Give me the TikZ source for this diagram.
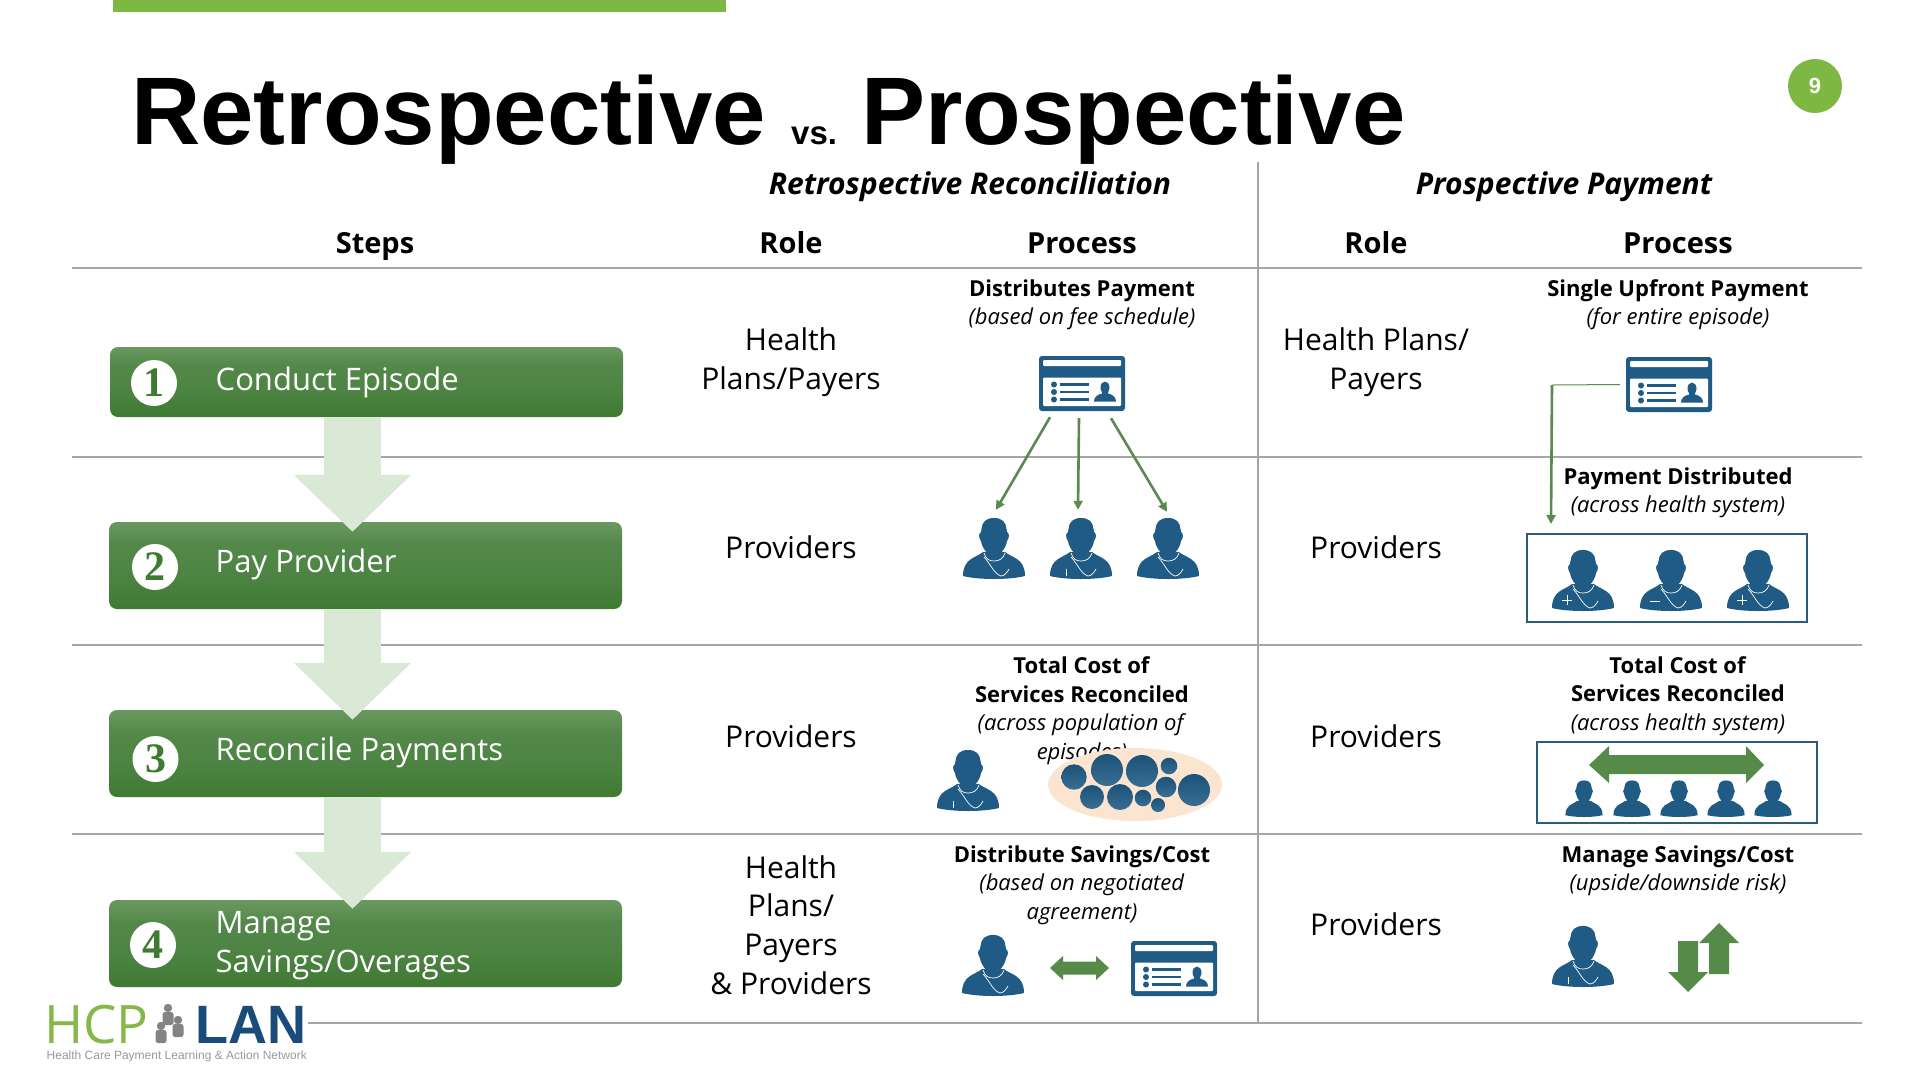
\documentclass[tikz,border=0pt]{standalone}
\usepackage{fontspec}
\setmainfont{Open Sans}
\newfontfamily\arialf{Liberation Sans}
\newfontfamily\serifnum{Liberation Serif}
\usetikzlibrary{arrows.meta,calc,shapes.geometric}
\definecolor{barg}{HTML}{7DB843}
\definecolor{rule}{HTML}{A6A6A6}
\definecolor{iconblue}{HTML}{1F5B85}
\definecolor{framebl}{HTML}{2B5C7C}
\definecolor{lineg}{HTML}{5B8A50}
\definecolor{blockg}{HTML}{568A48}
\definecolor{stepa}{HTML}{D9E9D6}
\definecolor{stept}{HTML}{6A9960}
\definecolor{stepm}{HTML}{53884A}
\definecolor{stepb}{HTML}{3F7A33}
\definecolor{peach}{HTML}{FBE5D0}
\definecolor{lanblue}{HTML}{1A4B7A}
\definecolor{hcpg}{HTML}{84B94A}
\definecolor{tagg}{HTML}{9A9A9A}
\pgfdeclareverticalshading{stepshade}{100bp}{color(0bp)=(stepb); color(25bp)=(stepb); color(45bp)=(stepm!70!stepb); color(62bp)=(stepm); color(75bp)=(stept); color(100bp)=(stept)}
\tikzset{
  x=1pt,y=-1pt,
  rulel/.style={draw=rule,line width=1.2pt},
  stepbox/.style={rounded corners=8pt,shading=stepshade,minimum width=513pt,inner sep=0pt},
  stepnum/.style={circle,fill=white,minimum size=46pt,inner sep=0pt,text=stepb,font=\serifnum\bfseries\fontsize{42}{42}\selectfont},
  steptxt/.style={anchor=west,inner sep=0pt,align=left,text=white,font=\fontsize{31}{39}\selectfont},
  steparrow/.style={draw=stepa,line width=57pt,-{Triangle[width=114pt,length=57pt,fill=stepa]}},
  head/.style={inner sep=0pt,font=\bfseries\fontsize{29}{35}\selectfont},
  subhead/.style={inner sep=0pt,font=\bfseries\itshape\fontsize{30}{36}\selectfont},
  role/.style={inner sep=0pt,align=center,font=\fontsize{30}{38.7}\selectfont},
  proc/.style={inner sep=0pt,align=center,font=\fontsize{22}{28.5}\selectfont},
  icon/.style={inner sep=0pt,minimum width=62pt,minimum height=62pt},
  cardn/.style={inner sep=0pt,minimum width=86pt,minimum height=55pt},
  frameb/.style={draw=framebl,line width=2pt,inner sep=0pt},
  flow/.style={draw=lineg,line width=2.6pt,-{Triangle[width=9pt,length=9pt]}},
  doctorplain/.pic={
    \fill[iconblue] (0,-31) .. controls (8,-31) and (12,-27) .. (12.5,-20) -- (13,-17)
      .. controls (15.5,-16) and (15.5,-11) .. (13,-8) .. controls (12,-1) and (6,7) .. (0,7)
      .. controls (-6,7) and (-12,-1) .. (-13,-8) .. controls (-15.5,-11) and (-15.5,-16) .. (-13,-17)
      -- (-12.5,-20) .. controls (-12,-27) and (-8,-31) .. (0,-31) -- cycle;
    \fill[iconblue] (-8,-2) rectangle (8,8);
    \fill[iconblue] (-11,3) .. controls (-18,9) and (-31,9) .. (-31,27) .. controls (-15,31) and (15,31) .. (31,27)
      .. controls (31,9) and (18,9) .. (11,3) -- cycle;
  },
  doctor/.pic={
    \pic {doctorplain};
    \draw[white,line width=.7pt] (-10,4) .. controls (-8,10) and (-5,12) .. (0,12) .. controls (5,12) and (9,10) .. (11,4);
    \draw[white,line width=.7pt] (-10,8) .. controls (-4,14) and (0,25) .. (7,27) .. controls (10,27) and (13,24) .. (15,20);
  },
  doctorb/.pic={
    \pic {doctor};
    \draw[white,line width=.7pt] (-15,20) -- (-15,27);
  },
  card/.pic={
    \fill[iconblue,rounded corners=3pt] (-43,-27.5) rectangle (43,27.5);
    \fill[white,rounded corners=1pt] (-39,-23.5) rectangle (39,-17.5);
    \fill[white,rounded corners=1pt] (-39,-6) rectangle (39,22.5);
    \foreach \yy in {1,8.5,16}{
      \fill[iconblue] (-28,\yy) circle (3);
      \fill[iconblue] (-22,\yy-1.3) rectangle (7,\yy+1.3);
    }
    \fill[iconblue] (23,4) ellipse (4.5 and 6);
    \fill[iconblue] (20,7) -- (26,7) -- (26,10) .. controls (30,11) and (34,13) .. (34,18) -- (12,18) .. controls (12,13) and (16,11) .. (20,10) -- cycle;
  },
  person/.pic={
    \fill[tagg!85!black] (0,-8) circle (4.2);
    \fill[tagg!85!black,rounded corners=2.5pt] (-5.5,-4) rectangle (5.5,9);
  }
}
\begin{document}
\begin{tikzpicture}
\useasboundingbox (0,0) rectangle (1920,1080);
\fill[white] (0,0) rectangle (1920,1080);
\fill[barg] (113,0) rectangle (726,12);
\node[circle,fill=barg,minimum size=54pt,inner sep=0pt,text=white,font=\arialf\bfseries\fontsize{22}{22}\selectfont] (pageno) at (1815,86) {9};
% title
\node[anchor=base west,inner sep=0pt,font=\arialf\bfseries\fontsize{96}{96}\selectfont] (titlea) at (131,144.5) {Retrospective};
\node[anchor=base west,inner sep=0pt,font=\arialf\bfseries\fontsize{33}{33}\selectfont] (titleb) at (791,144.5) {vs.};
\node[anchor=base west,inner sep=0pt,font=\arialf\bfseries\fontsize{96}{96}\selectfont] (titlec) at (861,144.5) {Prospective};
% rules
\draw[rulel] (1258,162) -- (1258,1023);
\draw[rulel] (72,268) -- (1862,268);
\draw[rulel] (72,457) -- (1862,457);
\draw[rulel] (72,645) -- (1862,645);
\draw[rulel] (72,834) -- (1862,834);
\draw[rulel] (308,1023) -- (1862,1023);
% headers
\node[subhead] (hr) at (970,187) {Retrospective Reconciliation};
\node[subhead] (hp) at (1564,187) {Prospective Payment};
\node[head,anchor=base] (h0) at (375,253) {Steps};
\node[head,anchor=base] (h1) at (791,253) {Role};
\node[head,anchor=base] (h2) at (1082,253) {Process};
\node[head,anchor=base] (h3) at (1376,253) {Role};
\node[head,anchor=base] (h4) at (1678,253) {Process};
% step boxes
\node[stepbox,minimum height=70pt] (box1) at (366.5,382) {};
\node[stepbox,minimum height=87pt] (box2) at (365.5,565.5) {};
\node[stepbox,minimum height=87pt] (box3) at (365.5,753.5) {};
\node[stepbox,minimum height=87pt] (box4) at (365.5,943.5) {};
\draw[steparrow] ([xshift=-14pt]box1.south) -- ([xshift=-13pt,yshift=-10pt]box2.north);
\draw[steparrow] ([xshift=-13pt]box2.south) -- ([xshift=-13pt,yshift=-10pt]box3.north);
\draw[steparrow] ([xshift=-13pt]box3.south) -- ([xshift=-13pt,yshift=-9pt]box4.north);
\node[stepnum] (n1) at (154,383) {1};
\node[stepnum] (n2) at (155,567) {2};
\node[stepnum] (n3) at (155.5,759) {3};
\node[stepnum] (n4) at (153,945) {4};
\node[steptxt] (t1) at (215.5,383) {\strut Conduct Episode};
\node[steptxt] (t2) at (215.5,565) {\strut Pay Provider};
\node[steptxt] (t3) at (215.5,753) {\strut Reconcile Payments};
\node[steptxt] (t4) at (215.5,945) {\strut Manage\\\strut Savings/Overages};
% roles
\node[role] (r1) at (791,362.5) {\strut Health\\\strut Plans/Payers};
\node[role] (r2) at (791,551) {\strut Providers};
\node[role] (r3) at (791,740) {\strut Providers};
\node[role] (r4) at (791,928.5) {\strut Health\\\strut Plans/\\\strut Payers\\\strut \& Providers};
\node[role] (s1) at (1376,362.5) {\strut Health Plans/\\\strut Payers};
\node[role] (s2) at (1376,551) {\strut Providers};
\node[role] (s3) at (1376,740) {\strut Providers};
\node[role] (s4) at (1376,928) {\strut Providers};
% process text
\node[proc] (p1) at (1082,305) {\strut\textbf{Distributes Payment}\\\strut\textit{(based on fee schedule)}};
\node[proc] (p3) at (1082,711) {\strut\textbf{Total Cost of}\\\strut\textbf{Services Reconciled}\\\strut\textit{(across population of}\\\strut\textit{episodes)}};
\node[proc] (p4) at (1082,885) {\strut\textbf{Distribute Savings/Cost}\\\strut\textit{(based on negotiated}\\\strut\textit{agreement)}};
\node[proc] (q1) at (1678,305) {\strut\textbf{Single Upfront Payment}\\\strut\textit{(for entire episode)}};
\node[proc] (q2) at (1678,493) {\strut\textbf{Payment Distributed}\\\strut\textit{(across health system)}};
\node[proc] (q3) at (1678,696) {\strut\textbf{Total Cost of}\\\strut\textbf{Services Reconciled}\\\strut\textit{(across health system)}};
\node[proc] (q4) at (1678,871) {\strut\textbf{Manage Savings/Cost}\\\strut\textit{(upside/downside risk)}};
% row 1-2 retrospective
\node[cardn] (card1) at (1082,383.5) {};
\pic at (card1) {card};
\node[icon] (doc1) at (994,549) {};
\node[icon] (doc2) at (1081,549) {};
\node[icon] (doc3) at (1168,549) {};
\pic at (doc1) {doctor};
\pic at (doc2) {doctorb};
\pic at (doc3) {doctor};
\draw[flow] ([xshift=-32pt,yshift=-6pt]card1.south) -- ([xshift=2pt,yshift=8pt]doc1.north);
\draw[flow] ([xshift=-3pt,yshift=-7pt]card1.south) -- ([xshift=-3pt,yshift=8pt]doc2.north);
\draw[flow] ([xshift=29pt,yshift=-7pt]card1.south) -- ([xshift=-1pt,yshift=6pt]doc3.north);
% row 1-2 prospective
\node[cardn] (card2) at (1669,384.5) {};
\pic at (card2) {card};
\node[frameb,minimum width=280pt,minimum height=88pt] (frame1) at (1667,578) {};
\coordinate (elbow) at (1552,385);
\draw[draw=lineg,line width=1pt] ([xshift=-6pt]card2.west) -- (elbow);
\draw[flow] (elbow) -- ([xshift=25pt,yshift=9pt]frame1.north west);
\pic at (1583,581) {doctor};
\pic at (1671,581) {doctor};
\pic at (1758,581) {doctor};
\draw[white,line width=.8pt] (1562,600) -- (1572,600) (1567,595) -- (1567,605);
\draw[white,line width=.8pt] (1650,601) -- (1660,601);
\draw[white,line width=.8pt] (1737,600) -- (1747,600) (1742,595) -- (1742,605);
% row 3 retrospective
\pic at (968,781) {doctorb};
\node[ellipse,fill=peach,inner sep=0pt,minimum width=174pt,minimum height=73pt] (cloud) at (1135,784.5) {};
\foreach \cx/\cy/\cr in {1074/777/12.7,1107/770/16,1142/771/16,1169/766/8.3,1092/797/12,1120/797/13,1143/798/8.3,1166/787/10.3,1158/805/7,1194/790/16}{
  \shade[top color=iconblue!90!black,bottom color=iconblue!88!white] (\cx,\cy) circle (\cr);
}
% row 3 prospective
\node[frameb,minimum width=280pt,minimum height=81pt] (frame2) at (1677,782.5) {};
\foreach \px in {1584,1632,1679,1726,1773}{
  \pic[scale=.6] at (\px,799) {doctorplain};
}
\fill[blockg] (1589,765) -- (1609,746) -- (1609,755) -- (1746,755) -- (1746,746) -- (1764,765) -- (1746,783) -- (1746,774) -- (1609,774) -- (1609,783) -- cycle;
% row 4
\pic at (993,966) {doctor};
\fill[blockg] (1050,968) -- (1063,956) -- (1063,961.5) -- (1096,961.5) -- (1096,956) -- (1109,968) -- (1096,980) -- (1096,974.5) -- (1063,974.5) -- (1063,980) -- cycle;
\pic at (1174,968.5) {card};
\pic at (1583,957) {doctorb};
\fill[blockg] (1719,923) -- (1739,943) -- (1729,943) -- (1729,974) -- (1709,974) -- (1709,943) -- (1699,943) -- cycle;
\fill[blockg] (1688,992) -- (1668,972) -- (1678,972) -- (1678,941) -- (1698,941) -- (1698,972) -- (1708,972) -- cycle;
% logo
\node[anchor=base west,inner sep=0pt,text=hcpg,font=\fontsize{53}{53}\selectfont] (hcp) at (44,1043) {HCP};
\pic at (168,1016) {person};
\pic at (161,1034) {person};
\pic at (178,1028) {person};
\node[anchor=base west,inner sep=0pt,text=lanblue,font=\arialf\bfseries\fontsize{54}{54}\selectfont] (lan) at (195,1043) {LAN};
\node[anchor=base west,inner sep=0pt,text=tagg,font=\arialf\fontsize{12}{12}\selectfont] (tag) at (46.5,1059) {Health Care Payment Learning \& Action Network};
\end{tikzpicture}
\end{document}
